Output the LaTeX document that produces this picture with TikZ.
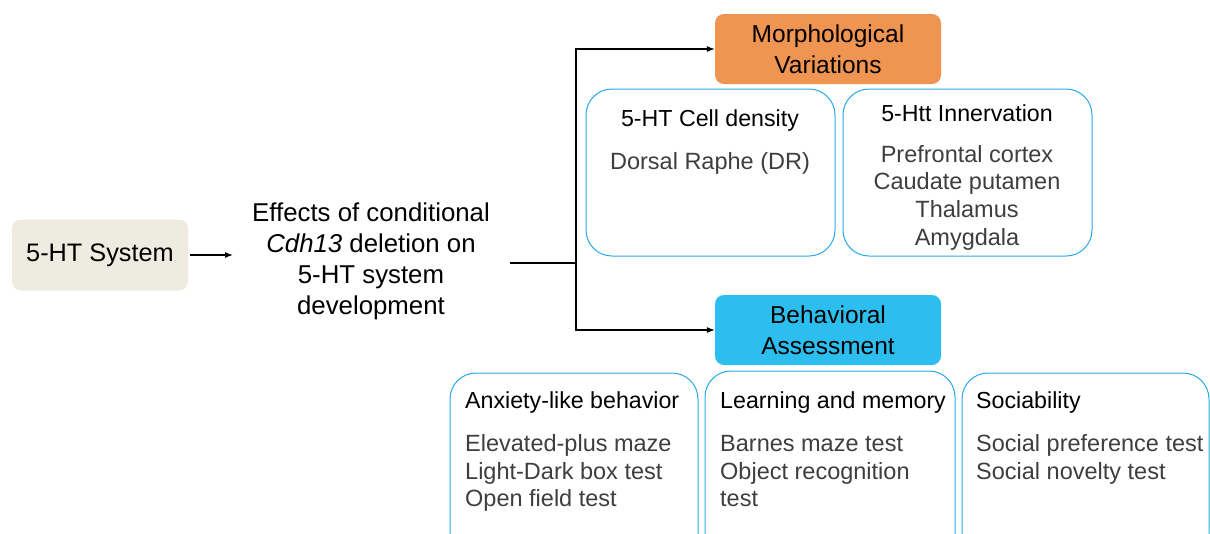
\documentclass[tikz,border=0pt]{standalone}
\usepackage{fontspec}
\setmainfont{Liberation Sans}
\usetikzlibrary{arrows.meta}
\definecolor{sysfill}{RGB}{238,235,224}
\definecolor{morphfill}{RGB}{240,148,82}
\definecolor{behavfill}{RGB}{45,190,240}
\definecolor{framecol}{RGB}{40,170,230}
\definecolor{bodygray}{RGB}{62,62,62}
\tikzset{
  arr/.style={-{Latex[length=8pt,width=6pt]}, line width=1.1pt},
  link/.style={line width=1.1pt},
  bigtext/.style={font=\fontsize{25.8}{31}\selectfont, text=black, align=center, inner sep=2pt},
  titlebox/.style={rounded corners=9pt, minimum width=226pt, minimum height=70pt, align=center,
    font=\fontsize{24.5}{31}\selectfont, inner sep=0pt},
  subbox/.style={draw=framecol, line width=1pt, rounded corners=26pt, minimum width=249pt, inner sep=0pt},
  headtext/.style={font=\fontsize{23.2}{28}\selectfont, text=black, inner sep=0pt},
  bodytext/.style={font=\fontsize{23.5}{27.7}\selectfont, text=bodygray, inner sep=0pt},
}
\begin{document}
\begin{tikzpicture}[x=1pt,y=-1pt]
\clip (0,0) rectangle (1210,533);
\fill[white] (0,0) rectangle (1210,533);

% source system and the study question
\node[fill=sysfill, rounded corners=9pt, minimum width=176pt, minimum height=71pt,
      font=\fontsize{25.3}{31}\selectfont, inner sep=0pt] (sys) at (100,255) {5-HT System};
\node[bigtext] (question) at (371,261.5) {Effects of conditional\\\textit{Cdh13} deletion on\\5-HT system\\development};

\draw[arr, shorten <=2pt, shorten >=17pt] (sys.east) -- (sys.east -| question.west);

% branch towards the two assessment blocks
\coordinate (split) at (510,263);
\coordinate (junction) at (576,263);

\node[titlebox, fill=morphfill] (morph) at (828,49) {Morphological\\Variations};
\node[titlebox, fill=behavfill] (behav) at (828,330) {Behavioral\\Assessment};

\draw[link] (split) -- (junction);
\draw[arr] (junction) |- (morph.west);
\draw[arr] (junction) |- (behav.west);

% morphological measures
\node[subbox, minimum height=167pt] (cell) at (710.5,172.5) {};
\node[subbox, minimum height=167pt] (innerv) at (967.5,172.5) {};
\node[headtext] (cellhead) at (710,120) {5-HT Cell density};
\node[bodytext] (cellbody) at (710,163.5) {Dorsal Raphe (DR)};
\node[headtext] (innervhead) at (967,113) {5-Htt Innervation};
\node[bodytext, align=center] (innervbody) at (967,197.5) {Prefrontal cortex\\Caudate putamen\\Thalamus\\Amygdala};

% behavioural tests
\node[subbox, minimum width=248pt, minimum height=187pt] (anx) at (574,466.5) {};
\node[subbox, minimum width=250pt, minimum height=189pt] (learn) at (830,465.5) {};
\node[subbox, minimum width=247pt, minimum height=187pt] (social) at (1085.5,466.5) {};

\node[headtext, anchor=west] (anxhead) at (465,402) {Anxiety-like behavior};
\node[bodytext, anchor=west, align=left] (anxbody) at (465,473.5) {\strut Elevated-plus maze\\Light-Dark box test\\Open field test\strut};
\node[headtext, anchor=west] (learnhead) at (720,402) {Learning and memory};
\node[bodytext, anchor=west, align=left] (learnbody) at (720,473.5) {\strut Barnes maze test\\Object recognition\\test\strut};
\node[headtext, anchor=west] (socialhead) at (976,402) {Sociability};
\node[bodytext, anchor=west, align=left] (socialbody) at (976,459.7) {\strut Social preference test\\Social novelty test\strut};
\end{tikzpicture}
\end{document}
